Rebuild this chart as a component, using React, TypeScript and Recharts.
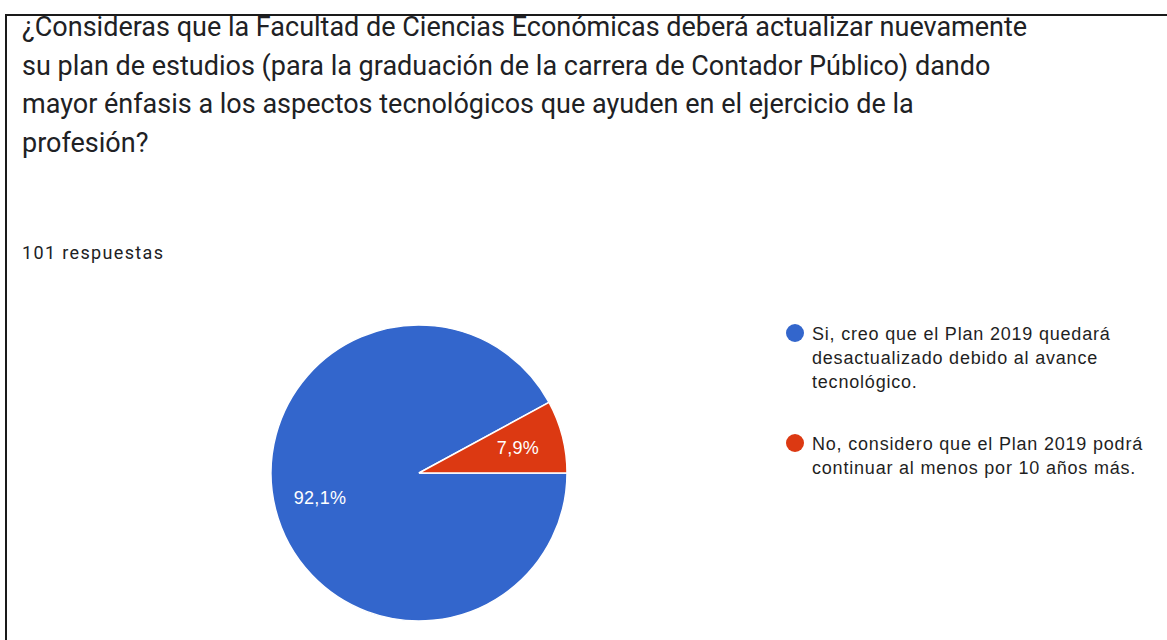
import React from "react";
import { PieChart, Pie, Cell, Legend } from "recharts";

const titleLines = [
  "¿Consideras que la Facultad de Ciencias Económicas deberá actualizar nuevamente",
  "su plan de estudios (para la graduación de la carrera de Contador Público) dando",
  "mayor énfasis a los aspectos tecnológicos que ayuden en el ejercicio de la",
  "profesión?",
];
const responsesLabel = "101 respuestas";
const categories = [
  "Si, creo que el Plan 2019 quedará desactualizado debido al avance tecnológico.",
  "No, considero que el Plan 2019 podrá continuar al menos por 10 años más.",
];
const legendLines = [
  ["Si, creo que el Plan 2019 quedará", "desactualizado debido al avance", "tecnológico."],
  ["No, considero que el Plan 2019 podrá", "continuar al menos por 10 años más."],
];
const counts = [93, 8];
const percentLabels = ["92,1%", "7,9%"];
const colors = ["#3366cc", "#dc3912"];

const data = categories.map((name, i) => ({ name, value: counts[i], pct: percentLabels[i] }));
const total = counts.reduce((a, b) => a + b, 0);
const startAngle = (360 * counts[1]) / total;

const RAD = Math.PI / 180;
const renderLabel = (props: any) => {
  const { cx, cy, midAngle, outerRadius, index } = props;
  const r = outerRadius * 0.69;
  const x = cx + r * Math.cos(-midAngle * RAD);
  const y = cy + r * Math.sin(-midAngle * RAD);
  return (
    <text
      x={x}
      y={y}
      fill="#ffffff"
      textAnchor="middle"
      dominantBaseline="central"
      fontFamily="Liberation Sans, Arial, sans-serif"
      fontSize={18}
      letterSpacing={0.3}
    >
      {percentLabels[index]}
    </text>
  );
};

const renderLegend = () => (
  <div
    style={{
      fontFamily: "Liberation Sans, Arial, sans-serif",
      fontSize: 18,
      letterSpacing: 0.8,
      color: "#1f1f1f",
    }}
  >
    {legendLines.map((lines, i) => (
      <div key={i} style={{ position: "relative", paddingLeft: 26, marginBottom: 38 }}>
        <span
          style={{
            position: "absolute",
            left: 0,
            top: 2,
            width: 18,
            height: 18,
            borderRadius: "50%",
            background: colors[i],
          }}
        />
        {lines.map((l, j) => (
          <div key={j} style={{ lineHeight: "24px", whiteSpace: "nowrap" }}>
            {l}
          </div>
        ))}
      </div>
    ))}
  </div>
);

export default function App() {
  return (
    <div
      style={{
        position: "fixed",
        left: 0,
        top: 0,
        width: 1167,
        height: 640,
        background: "#ffffff",
        overflow: "hidden",
      }}
    >
      <div
        style={{
          position: "absolute",
          left: 5,
          top: 14,
          width: 1170,
          height: 640,
          borderTop: "2px solid #1a1a1a",
          borderLeft: "2px solid #1a1a1a",
          boxSizing: "border-box",
        }}
      />
      <div
        style={{
          position: "absolute",
          left: 22,
          top: 8,
          fontFamily: "Roboto, sans-serif",
          fontSize: 27,
          lineHeight: "38.5px",
          color: "#202124",
          whiteSpace: "nowrap",
        }}
      >
        {titleLines.map((t, i) => (
          <div key={i}>{t}</div>
        ))}
      </div>
      <div
        style={{
          position: "absolute",
          left: 22,
          top: 242,
          fontFamily: "Roboto, sans-serif",
          fontSize: 18,
          letterSpacing: 1.35,
          color: "#202124",
          whiteSpace: "nowrap",
        }}
      >
        {responsesLabel}
      </div>
      <div style={{ position: "absolute", left: 0, top: 0 }}>
        <PieChart width={1167} height={640} margin={{ top: 0, right: 0, bottom: 0, left: 0 }}>
          <Pie
            data={data}
            dataKey="value"
            nameKey="name"
            cx={419}
            cy={473}
            outerRadius={148}
            innerRadius={0}
            startAngle={startAngle}
            endAngle={startAngle + 360}
            stroke="#ffffff"
            strokeWidth={1.5}
            label={renderLabel}
            labelLine={false}
            isAnimationActive={false}
          >
            {data.map((d, i) => (
              <Cell key={i} fill={colors[i]} />
            ))}
          </Pie>
          <Legend
            content={renderLegend}
            layout="vertical"
            wrapperStyle={{ position: "absolute", left: 786, top: 322, width: 381 }}
          />
        </PieChart>
      </div>
    </div>
  );
}
